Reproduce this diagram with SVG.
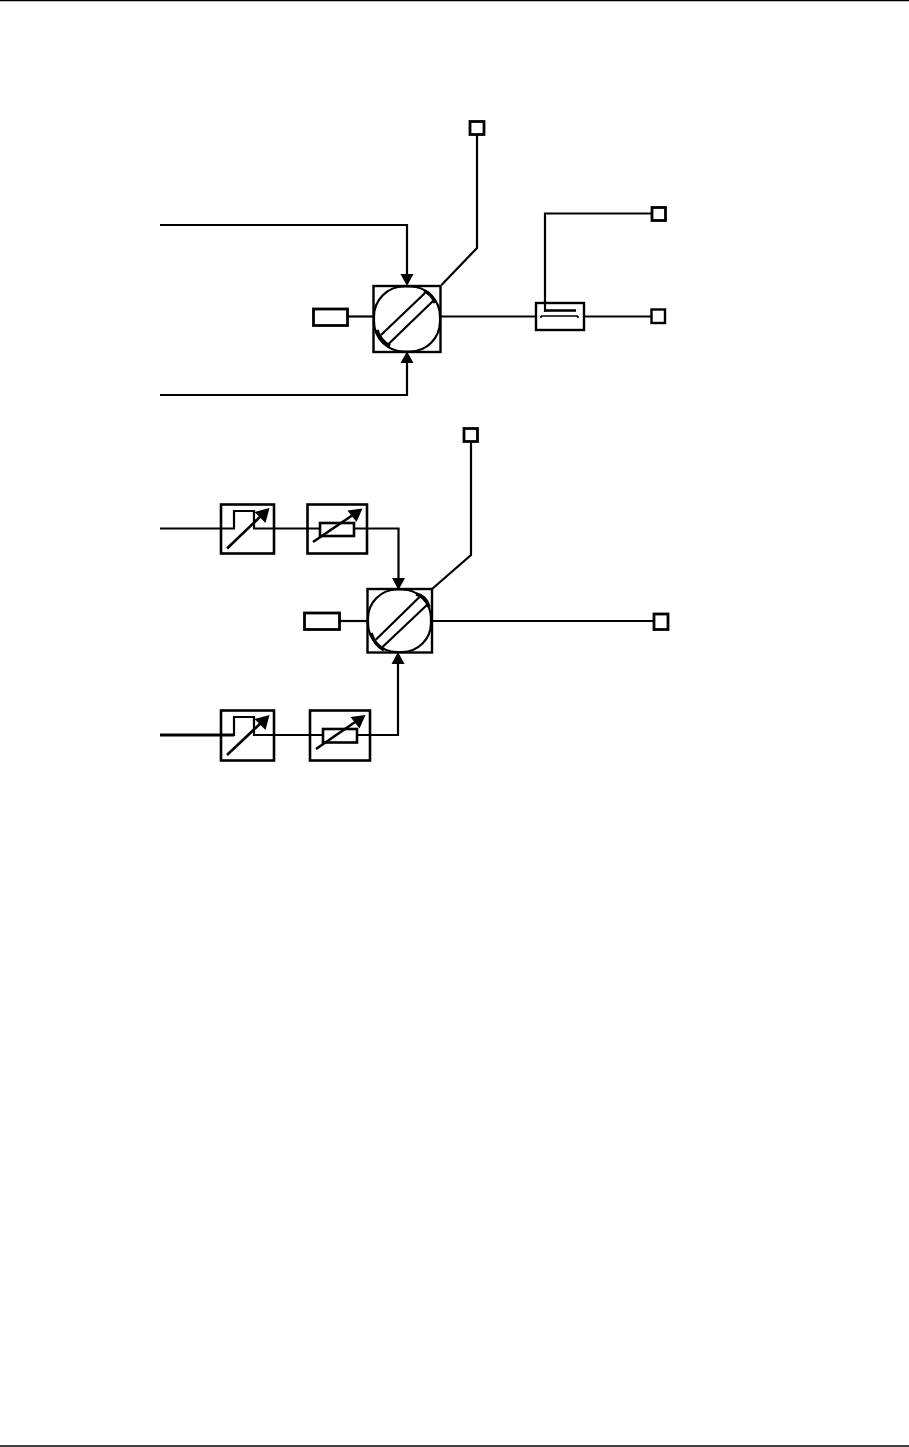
<svg xmlns="http://www.w3.org/2000/svg" width="909" height="1447" viewBox="0 0 909 1447">
<defs>
<style>
.l{fill:none;stroke:#000;stroke-width:2.2}
.d{fill:none;stroke:#000;stroke-width:2.6}
.b{fill:none;stroke:#000;stroke-width:2.6}
.t{fill:#fff;stroke:#000;stroke-width:2.8}
.m{fill:#fff;stroke:#000;stroke-width:2.4}
.x{fill:none;stroke:#000;stroke-width:3.4}
.h{fill:#000;stroke:none}
</style>
</defs>
<rect width="909" height="1447" fill="#fff"/>
<g id="page-rules">
<line x1="0" y1="0.5" x2="909" y2="0.5" stroke="#000" stroke-width="1.5"/>
<line x1="0" y1="1446" x2="909" y2="1446" stroke="#000" stroke-width="1.5"/>
</g>
<g id="connectors">
<path class="l" d="M160 225H407V275"/>
<path class="l" d="M160 395H407V362"/>
<path class="l" d="M477 135V248L441.500 285"/>
<path class="l" d="M348 316.500H373"/>
<path class="l" d="M441 316.500H536"/>
<path class="l" d="M584 316.500H651"/>
<path class="l" d="M651 213.500H545V312"/>
<path class="l" d="M160 528.500H234V511H254V528.500H320"/>
<path class="l" d="M354 528.500H398.500V579"/>
<path class="l" d="M160 735H234V717H254V735H323"/>
<line x1="160" y1="735" x2="234" y2="735" stroke="#000" stroke-width="2.8"/>
<path class="l" d="M357 735H398V663"/>
<path class="l" d="M471 442V555L432 589"/>
<path class="l" d="M340 621H367"/>
<path class="l" d="M432 621H653"/>
<path class="h" d="M400.500 274H413.500L407 286Z"/>
<path class="h" d="M400.500 363H413.500L407 351.500Z"/>
<path class="h" d="M392 578H405L398.500 590Z"/>
<path class="h" d="M391.500 664H404.500L398 652Z"/>
</g>
<g id="valve-1">
<rect class="m" x="373.500" y="286" width="67" height="66"/>
<rect class="l" x="374" y="286.500" width="66" height="65" rx="30"/>
<path class="l" d="M381 335L425 293M388.500 344L433 301"/>
<path class="x" d="M377 330Q380 341 390 346M424 291Q432 294 435 303"/>
</g>
<g id="input-1"><rect class="t" x="313.500" y="309" width="34" height="16.500"/></g>
<g id="output-1-top"><rect class="t" x="470" y="121.500" width="14" height="13"/></g>
<g id="output-1-upper"><rect class="t" x="652" y="207.500" width="13.500" height="13"/></g>
<g id="output-1-lower"><rect class="m" x="651.500" y="309.500" width="13.500" height="13.500"/></g>
<g id="tee">
<rect class="m" x="536" y="303" width="48" height="27"/>
<path class="d" d="M545 310.500H576"/>
<path d="M541 316H578M541 316V318M578 316V318" fill="none" stroke="#000" stroke-width="1.5"/>
<line x1="545" y1="300" x2="545" y2="312" stroke="#000" stroke-width="2.2"/>
</g>
<g id="valve-2">
<rect class="m" x="367.500" y="589" width="64.500" height="63.500"/>
<rect class="l" x="368" y="589.500" width="63" height="62.500" rx="29"/>
<path class="l" d="M376 639.500L419.500 597M382.500 647L428.500 603.500"/>
<path class="x" d="M371 633Q374 644 384 650M416 594Q426 596 429 607"/>
</g>
<g id="input-2"><rect class="t" x="304.500" y="613" width="35" height="16.500"/></g>
<g id="output-2-top"><rect class="t" x="464" y="428.500" width="13.500" height="13"/></g>
<g id="output-2-right"><rect class="t" x="654" y="614" width="14" height="15.500"/></g>
<g id="hyst-1">
<rect class="b" x="221" y="504.500" width="53" height="49"/>
<path class="d" d="M227 548.500L263 514"/>
<path class="h" d="M269.500 508L265.500 523L254.500 512Z"/>
</g>
<g id="resistor-1">
<rect class="b" x="307.500" y="504.500" width="59.500" height="49"/>
<rect class="b" x="320" y="523" width="34" height="13"/>
<path class="d" d="M313 542L355 513.500"/>
<path class="h" d="M362.500 508.500L356.500 522L347.500 510.500Z"/>
</g>
<g id="hyst-2">
<rect class="b" x="221" y="710.500" width="53" height="50"/>
<path class="d" d="M227 755L263 721"/>
<path class="h" d="M269.500 715L265.500 730L254.500 719Z"/>
</g>
<g id="resistor-2">
<rect class="b" x="310" y="710.500" width="60" height="50"/>
<rect class="b" x="323" y="729" width="34" height="13.500"/>
<path class="d" d="M316 749L358 720"/>
<path class="h" d="M365.500 715L359.500 728.500L350.500 717Z"/>
</g>
</svg>
